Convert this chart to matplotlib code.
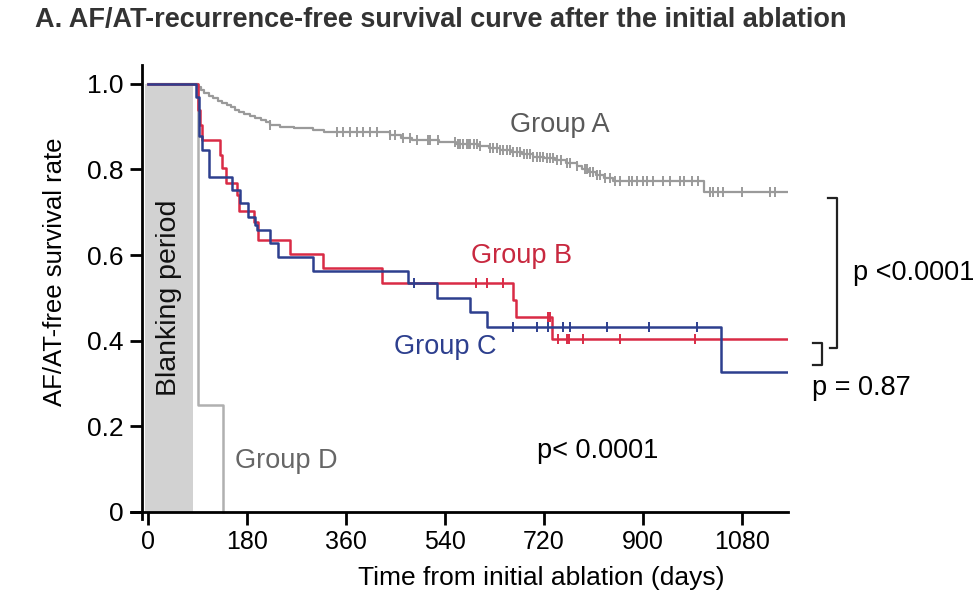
import numpy as np
import matplotlib.pyplot as plt

plt.rcParams['font.family'] = ['Liberation Sans', 'DejaVu Sans']

# Kaplan-Meier steps (days, survival)
a_time = [0, 91, 96, 102, 110, 118, 127, 135, 143, 150, 158, 166, 175, 185, 195, 205,
          215, 222, 240, 265, 300, 320, 440, 460, 480, 530, 560, 600, 620, 640, 660, 680,
          700, 720, 740, 760, 780, 790, 800, 815, 830, 845, 1012]
a_surv = [1.0, 0.993, 0.986, 0.979, 0.972, 0.966, 0.960, 0.955, 0.950, 0.945, 0.940, 0.935,
          0.930, 0.925, 0.920, 0.915, 0.910, 0.905, 0.900, 0.897, 0.893, 0.888, 0.880, 0.873,
          0.868, 0.864, 0.860, 0.855, 0.850, 0.845, 0.840, 0.835, 0.830, 0.826, 0.822, 0.815,
          0.808, 0.802, 0.795, 0.788, 0.780, 0.772, 0.748]
a_cens = [222, 344, 355, 367, 380, 391, 404, 417, 440, 449, 464, 477, 489, 510, 513, 528,
          558, 564, 567, 573, 580, 583, 586, 592, 598, 604, 622, 628, 634, 640, 646, 652,
          658, 664, 671, 677, 683, 689, 695, 701, 707, 713, 719, 725, 731, 737, 743, 752,
          762, 768, 780, 795, 798, 804, 810, 816, 822, 831, 840, 849, 858, 874, 880, 889,
          901, 907, 919, 937, 949, 968, 974, 989, 1001, 1022, 1028, 1037, 1046, 1080, 1131, 1140]

b_time = [0, 91, 95, 98, 131, 134, 142, 161, 166, 193, 200, 258, 318, 425, 664, 669, 734]
b_surv = [1.0, 0.939, 0.904, 0.869, 0.834, 0.803, 0.769, 0.741, 0.702, 0.678, 0.636, 0.603,
          0.569, 0.534, 0.494, 0.455, 0.404]
b_cens = [597, 617, 646, 728, 731, 746, 762, 766, 792, 858, 994]

c_time = [0, 88, 92, 98, 110, 152, 167, 182, 195, 199, 221, 237, 300, 472, 525, 586, 616, 1043]
c_surv = [1.0, 0.97, 0.877, 0.846, 0.783, 0.752, 0.721, 0.690, 0.671, 0.659, 0.628, 0.595,
          0.564, 0.534, 0.499, 0.468, 0.433, 0.326]
c_cens = [483, 663, 707, 728, 755, 768, 834, 912, 998]

d_time = [0, 90, 136]
d_surv = [1.0, 0.25, 0.0]

end_day = 1162
x_ticks = [0, 180, 360, 540, 720, 900, 1080]
y_ticks = [0, 0.2, 0.4, 0.6, 0.8, 1.0]
y_tick_labels = ['0', '0.2', '0.4', '0.6', '0.8', '1.0']

col_a = '#9a9a9a'
col_b = '#d92b45'
col_c = '#2d3f8e'
col_d = '#b0b0b0'


def surv_at(times, surv, days):
    idx = np.searchsorted(times, days, side='right') - 1
    return np.asarray(surv)[idx]


def km_line(ax, times, surv, cens, color, lw=1.8):
    ax.step(list(times) + [end_day], list(surv) + [surv[-1]], where='post',
            color=color, lw=lw, zorder=3)
    if cens:
        ax.plot(cens, surv_at(times, surv, cens), ls='none', marker='|',
                ms=7, mew=1.4, color=color, zorder=3)


fig = plt.figure(figsize=(9.78, 6.08), dpi=100)
ax = fig.add_axes([131 / 978, 1 - 519 / 608, 657 / 978, 454 / 608])
ax.set_xlim(-31, 1164)
ax.set_ylim(-0.0164, 1.044)

# blanking period box
ax.axvspan(-6, 82, ymin=0.0164 / 1.0604, ymax=1.0164 / 1.0604,
           facecolor='#d2d2d2', edgecolor='none', zorder=1)
ax.text(38, 0.5, 'Blanking period', rotation=90, ha='center', va='center',
        fontsize=20.5, color='#111111', zorder=2)

ax.step(d_time, d_surv, where='post', color=col_d, lw=1.8, zorder=2)
km_line(ax, a_time, a_surv, a_cens, col_a, lw=1.6)
km_line(ax, b_time, b_surv, b_cens, col_b)
km_line(ax, c_time, c_surv, c_cens, col_c)

ax.text(749, 0.904, 'Group A', color='#5a5a5a', fontsize=19.5, ha='center', va='center')
ax.text(680, 0.598, 'Group B', color='#c8283f', fontsize=19.5, ha='center', va='center')
ax.text(540, 0.386, 'Group C', color=col_c, fontsize=19.5, ha='center', va='center')
ax.text(251, 0.119, 'Group D', color='#666666', fontsize=19.5, ha='center', va='center')
ax.text(817, 0.143, 'p< 0.0001', color='black', fontsize=19.5, ha='center', va='center')

# axes styling
for side in ['top', 'right']:
    ax.spines[side].set_visible(False)
ax.spines['left'].set_position(('data', -11))
ax.spines['bottom'].set_position(('data', 0))
ax.spines['left'].set_linewidth(2)
ax.spines['bottom'].set_linewidth(2)
ax.set_xticks(x_ticks)
ax.set_yticks(y_ticks)
ax.set_yticklabels(y_tick_labels)
ax.tick_params(axis='both', direction='out', length=9, width=2, pad=4)
ax.tick_params(axis='x', labelsize=18)
ax.tick_params(axis='y', labelsize=19)
ax.set_xlabel('Time from initial ablation (days)', fontsize=19, va='center')
ax.xaxis.set_label_coords(0.624, (519 - 578) / 454)
ax.set_ylabel('AF/AT-free survival rate', fontsize=18.5, va='center')
ax.yaxis.set_label_coords((55 - 131) / 657, (519 - 272) / 454)

# significance brackets (figure pixel coords)
W, H = 978, 608


def fig_line(xs, ys):
    fig.add_artist(plt.Line2D([x / W for x in xs], [1 - y / H for y in ys],
                              color='#222222', lw=1.6))


fig_line([828, 837, 837, 830], [198, 198, 348, 348])
fig_line([813, 822, 822, 813], [343, 343, 365, 365])
fig.text(914 / W, 1 - 273 / H, 'p <0.0001', fontsize=19.5, ha='center', va='center')
fig.text(861 / W, 1 - 388 / H, 'p = 0.87', fontsize=19.5, ha='center', va='center')

fig.text(35 / W, 1 - 20 / H, 'A. AF/AT-recurrence-free survival curve after the initial ablation',
         fontsize=19.5, fontweight='bold', color='#333333', ha='left', va='center')

fig.savefig('out.png', dpi=100)
